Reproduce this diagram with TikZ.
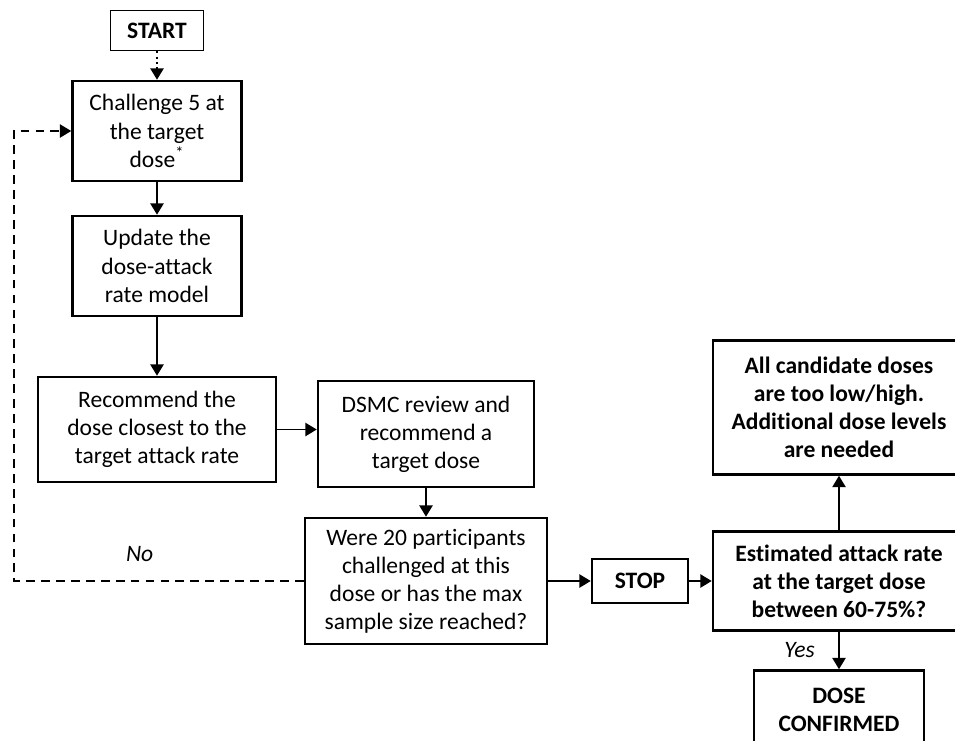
\documentclass[tikz,border=0pt]{standalone}
\usepackage{fontspec}
\setmainfont{Carlito}[Ligatures=NoCommon]
\usetikzlibrary{arrows.meta}

\begin{document}
\begin{tikzpicture}[
            font=\fontsize{13.4}{16}\selectfont,
            box/.style={rectangle, draw, line width=1.4pt, align=center, inner sep=2pt},
            thinbox/.style={rectangle, draw, line width=0.7pt, align=center, font=\fontsize{13.4}{16}\selectfont\bfseries},
            arrow/.style={-{Triangle[length=6.5pt,width=7.5pt]}, line width=1.1pt}
        ]
            \useasboundingbox (0,0) rectangle (19.1,-14.8);

            % Nodes
            \node[thinbox, minimum width=1.86cm, minimum height=0.8cm] (start) at (3.14,-0.61) {START};
            \node[box, minimum width=3.38cm, minimum height=2cm, below of=start, node distance=2.01cm] (challenge) {Challenge 5 at\\the target\\dose\textsuperscript{*}};
            \node[box, minimum width=3.38cm, minimum height=2cm, below of=challenge, node distance=2.7cm] (update) {Update the\\dose-attack\\rate model};
            \node[box, minimum width=4.76cm, minimum height=2.1cm, below of=update, node distance=3.27cm] (recommend) {Recommend the\\dose closest to the\\target attack rate};
            \node[box, minimum width=4.32cm, minimum height=2.12cm, right of=recommend, node distance=5.38cm, yshift=-0.09cm] (dsmc) {DSMC review and\\recommend a\\target dose};
            \node[box, minimum width=4.84cm, minimum height=2.52cm, below of=dsmc, node distance=2.94cm] (were) {Were 20 participants\\challenged at this\\dose or has the max\\sample size reached?};
            \node[box, minimum width=1.92cm, minimum height=0.88cm, right of=were, node distance=4.28cm, font=\fontsize{13.4}{16}\selectfont\bfseries] (stop) {STOP};
            \node[box, minimum width=5.04cm, minimum height=1.98cm, right of=stop, node distance=3.98cm, font=\fontsize{13.4}{16}\selectfont\bfseries] (estimated) {Estimated attack rate\\at the target dose\\between 60-75\%?};
            \node[box, minimum width=5.04cm, minimum height=2.68cm, above of=estimated, node distance=3.47cm, font=\fontsize{13.4}{16}\selectfont\bfseries] (alldoses) {All candidate doses\\are too low/high.\\Additional dose levels\\are needed};
            \node[box, minimum width=3.4cm, minimum height=1.56cm, below of=estimated, node distance=2.57cm, font=\fontsize{13.4}{16}\selectfont\bfseries] (confirmed) {DOSE\\CONFIRMED};
            \coordinate[xshift=-5.8cm] (loop) at (were.west);

            % Arrows
            \draw[arrow, dotted] (start) -- (challenge);
            \draw[arrow] (challenge) -- (update);
            \draw[arrow] (update) -- (recommend);
            \draw[arrow] (recommend.east |- dsmc.west) ++(0,0.09) -- ([yshift=0.09cm]dsmc.west);
            \draw[arrow] (dsmc) -- (were);
            \draw[arrow] (were) -- (stop);
            \draw[arrow] (stop) -- (estimated);
            \draw[arrow] (estimated) -- (alldoses);
            \draw[arrow] (estimated) -- node[left, xshift=-0.35cm] {\itshape Yes} (confirmed);
            \draw[arrow, dash pattern=on 5pt off 3.5pt] (were.west) -- node[above, pos=0.566, yshift=7pt] {\itshape No} (loop) |- (challenge.west);
        \end{tikzpicture}
\end{document}
